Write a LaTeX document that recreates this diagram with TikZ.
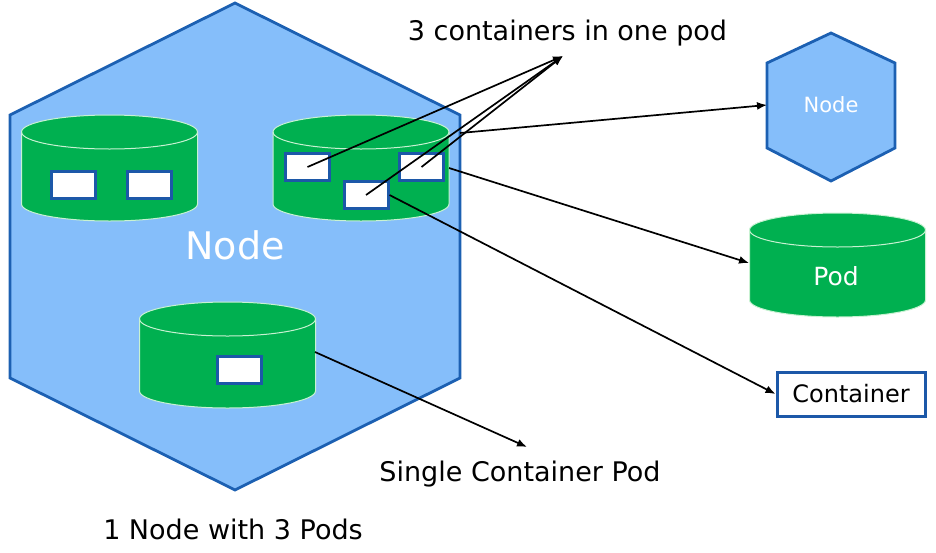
\documentclass[tikz,border=0pt]{standalone}
\usepackage{fontspec}
\setmainfont{DejaVu Sans}
\usepackage{xcolor}
\usetikzlibrary{arrows.meta}

\definecolor{nodefill}{RGB}{133,190,250}
\definecolor{nodeline}{RGB}{28,96,178}
\definecolor{podgreen}{RGB}{0,176,80}
\definecolor{podrim}{RGB}{200,242,210}
\definecolor{ctrline}{RGB}{28,88,168}

% pod cylinder: centre x, top ellipse y, bottom ellipse y
\newcommand{\podcyl}[3]{%
  \draw[podbody] (#1-88,#2) -- (#1-88,#3)
    arc[start angle=180, end angle=0, x radius=88, y radius=17]
    -- (#1+88,#2) arc[start angle=0, end angle=-180, x radius=88, y radius=17] -- cycle;
  \draw[podedge] (#1-88,#2) arc[start angle=180, end angle=0, x radius=88, y radius=17];
}

\begin{document}
\begin{tikzpicture}[x=1pt, y=-1pt,
  hexa/.style={fill=nodefill, draw=nodeline, line width=2.8pt, line join=miter},
  podbody/.style={fill=podgreen, draw=podrim, line width=1pt},
  podedge/.style={draw=podrim, line width=1pt},
  ctr/.style={draw=ctrline, line width=3pt, fill=white, inner sep=0pt,
    minimum width=44pt, minimum height=27pt},
  pointer/.style={line width=1.7pt, -{Latex[length=10pt,width=8pt]}},
  caption/.style={anchor=base, inner sep=0pt, font=\fontsize{27}{30}\selectfont}]
\useasboundingbox (0,0) rectangle (936,552);

% the node with three pods
\draw[hexa] (235,3) -- (460,115) -- (460,378) -- (235,490) -- (10,378) -- (10,115) -- cycle;
\coordinate (bignode-e) at (460,133);
\node[caption, white, font=\fontsize{38}{42}\selectfont] (nodetitle) at (235,259) {Node};

\podcyl{109.5}{132}{204}
\podcyl{361}{132}{204}
\podcyl{227.5}{319}{391}
\coordinate (podtwo-e) at (449,168);
\coordinate (podone-e) at (315,352);

\node[ctr] (ctra) at (73.5,185) {};
\node[ctr] (ctrb) at (149.5,185) {};
\node[ctr] (ctrc) at (307.5,167) {};
\node[ctr] (ctrd) at (366,195) {};
\node[ctr] (ctre) at (421.5,167) {};
\node[ctr] (ctrf) at (239.5,370) {};

% key on the right
\draw[hexa] (831,33) -- (895,63) -- (895,148) -- (831,181) -- (767,148) -- (767,63) -- cycle;
\coordinate (keynode-w) at (767,105);
\node[caption, white, font=\fontsize{21}{24}\selectfont] (keynodetext) at (831,112) {Node};

\podcyl{837.5}{230}{300}
\coordinate (keypod-w) at (749,263);
\node[caption, white, font=\fontsize{25}{28}\selectfont] (keypodtext) at (836,285) {Pod};

\node[draw=ctrline, line width=3pt, fill=white, minimum width=148pt, minimum height=44pt,
  font=\fontsize{24}{28}\selectfont] (keyctr) at (851,394) {Container};

% captions
\node[caption] (threectr) at (567.5,40) {3 containers in one pod};
\coordinate (threectr-tip) at (563,56);
\node[caption] (singlepod) at (520,481) {Single Container Pod};
\coordinate (singlepod-tip) at (527,447);
\node[caption] (summary) at (233,539) {1 Node with 3 Pods};

% arrows
\draw[pointer] (ctrc.center) -- (threectr-tip);
\draw[pointer] (ctrd.center) -- (threectr-tip);
\draw[pointer] (ctre.center) -- (threectr-tip);
\draw[pointer] (bignode-e) -- (keynode-w);
\draw[pointer] (podtwo-e) -- (keypod-w);
\draw[pointer] (ctrd.east) -- (keyctr.west);
\draw[pointer] (podone-e) -- (singlepod-tip);
\end{tikzpicture}
\end{document}
